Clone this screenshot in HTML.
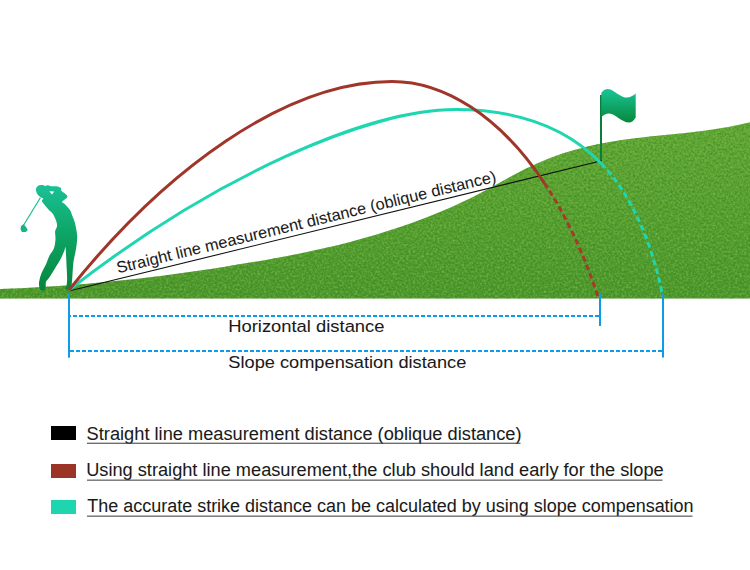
<!DOCTYPE html>
<html><head><meta charset="utf-8"><style>
html,body{margin:0;padding:0;background:#fff;}
body{width:750px;height:570px;overflow:hidden;position:relative;}
svg{position:absolute;left:0;top:0;}
</style></head><body>
<svg width="750" height="570" viewBox="0 0 750 570">
<defs>
<linearGradient id="gg" x1="0" y1="122" x2="0" y2="298" gradientUnits="userSpaceOnUse">
<stop offset="0" stop-color="#62a836"/><stop offset="1" stop-color="#4c972c"/>
</linearGradient>
<filter id="noise" x="0" y="0" width="100%" height="100%" color-interpolation-filters="sRGB">
<feTurbulence type="fractalNoise" baseFrequency="0.45" numOctaves="2" seed="7" result="n"/>
<feColorMatrix in="n" type="matrix" values="0 0 0 0 0.50  0 0 0 0 0.74  0 0 0 0 0.28  1.9 0 0 0 -0.92" result="lt"/>
<feColorMatrix in="n" type="matrix" values="0 0 0 0 0.22  0 0 0 0 0.52  0 0 0 0 0.14  -1.9 0 0 0 0.98" result="dk"/>
<feComposite in="lt" in2="SourceGraphic" operator="in" result="lt2"/>
<feComposite in="dk" in2="SourceGraphic" operator="in" result="dk2"/>
<feMerge><feMergeNode in="SourceGraphic"/><feMergeNode in="lt2"/><feMergeNode in="dk2"/></feMerge>
</filter>
<linearGradient id="golf" x1="0" y1="184" x2="0" y2="291" gradientUnits="userSpaceOnUse">
<stop offset="0" stop-color="#1bc196"/><stop offset="0.45" stop-color="#0ea668"/><stop offset="1" stop-color="#06853b"/>
</linearGradient>
<linearGradient id="flag" x1="0" y1="89" x2="0" y2="123" gradientUnits="userSpaceOnUse">
<stop offset="0" stop-color="#18c596"/><stop offset="1" stop-color="#07873a"/>
</linearGradient>
</defs>
<path d="M0.0,288.9 C4.2,288.7 16.7,288.3 25.0,287.9 C33.3,287.5 41.7,287.0 50.0,286.5 C58.3,286.0 66.7,285.4 75.0,284.8 C83.3,284.2 91.7,283.4 100.0,282.6 C108.3,281.8 116.7,281.0 125.0,280.1 C133.3,279.2 141.7,278.2 150.0,277.2 C158.3,276.2 166.7,275.1 175.0,274.0 C183.3,272.9 191.7,271.7 200.0,270.5 C208.3,269.3 216.7,268.0 225.0,266.7 C233.3,265.4 241.7,264.0 250.0,262.6 C258.3,261.2 266.7,259.7 275.0,258.2 C283.3,256.7 291.7,255.1 300.0,253.4 C308.3,251.7 316.7,249.9 325.0,248.0 C333.3,246.1 341.7,244.1 350.0,241.9 C358.3,239.7 366.7,237.5 375.0,235.0 C383.3,232.5 391.7,229.9 400.0,227.1 C408.3,224.3 416.7,221.2 425.0,218.0 C433.3,214.8 441.7,211.4 450.0,207.7 C458.3,204.0 466.7,200.1 475.0,195.9 C483.3,191.7 491.7,187.0 500.0,182.5 C508.3,178.0 516.7,173.1 525.0,169.0 C533.3,164.9 541.7,161.2 550.0,158.0 C558.3,154.8 566.7,152.1 575.0,149.7 C583.3,147.3 591.7,145.4 600.0,143.7 C608.3,142.0 616.7,140.7 625.0,139.5 C633.3,138.3 641.7,137.4 650.0,136.5 C658.3,135.6 666.7,134.9 675.0,134.0 C683.3,133.1 691.7,132.3 700.0,131.2 C708.3,130.1 716.7,129.0 725.0,127.5 C733.3,126.0 745.8,123.1 750.0,122.2 L750,298.5 L0,298.5 Z" fill="url(#gg)" filter="url(#noise)"/>
<!-- golfer -->
<path d="M36.0,190.0 C35.9,188.9 36.2,188.1 36.7,187.3 C37.2,186.5 38.3,185.7 39.3,185.3 C40.3,184.9 41.7,184.9 42.7,185.0 C43.7,185.1 44.4,185.9 45.3,186.0 C46.2,186.1 47.0,185.2 48.0,185.3 C49.0,185.4 50.1,186.1 51.3,186.3 C52.5,186.5 54.0,186.2 55.3,186.3 C56.6,186.4 58.3,186.6 59.3,187.0 C60.3,187.4 61.0,188.1 61.3,188.7 C61.6,189.3 60.7,189.9 61.3,190.7 C61.9,191.5 63.7,192.4 64.7,193.3 C65.7,194.2 67.0,195.2 67.3,196.0 C67.6,196.8 67.2,197.3 66.7,198.0 C66.2,198.7 64.8,199.3 64.0,200.0 C63.2,200.7 61.9,201.3 62.0,202.0 C62.1,202.7 63.4,202.7 64.7,204.0 C66.0,205.3 68.7,208.0 70.0,210.0 C71.3,212.0 71.6,213.9 72.4,215.9 C73.2,217.9 74.0,219.7 74.6,221.8 C75.2,223.9 75.7,226.1 76.1,228.4 C76.5,230.7 77.1,233.3 77.2,235.8 C77.3,238.3 77.0,240.8 76.8,243.2 C76.6,245.6 76.2,247.5 75.8,250.0 C75.4,252.5 74.6,255.7 74.2,258.0 C73.8,260.3 73.5,261.1 73.2,264.0 C72.9,266.9 72.7,272.1 72.4,275.7 C72.1,279.3 72.0,283.1 71.5,285.4 C71.0,287.7 70.6,288.6 69.7,289.3 C68.8,290.0 66.9,289.9 66.2,289.7 C65.5,289.5 65.2,288.7 65.3,288.0 C65.4,287.3 66.3,287.0 66.6,285.4 C66.9,283.8 67.1,281.4 67.1,278.3 C67.1,275.2 66.8,270.2 66.6,266.9 C66.4,263.5 66.4,261.4 66.2,258.2 C66.0,255.0 65.8,248.8 65.5,247.5 C65.2,246.2 65.2,248.5 64.5,250.3 C63.8,252.1 62.6,255.1 61.0,258.2 C59.4,261.3 56.8,265.3 54.8,268.7 C52.8,272.1 50.2,276.1 48.7,278.3 C47.2,280.5 46.5,280.3 46.0,281.8 C45.5,283.3 45.9,285.6 45.6,287.1 C45.3,288.6 45.2,290.2 44.3,290.6 C43.4,291.0 41.2,290.7 40.3,289.7 C39.4,288.7 39.1,286.1 39.0,284.5 C38.9,282.9 39.1,282.0 39.5,280.1 C39.9,278.2 40.5,275.7 41.6,273.1 C42.7,270.5 44.7,267.2 46.0,264.3 C47.3,261.4 48.3,257.8 49.5,255.5 C50.7,253.2 52.1,252.1 53.0,250.3 C53.9,248.6 54.4,247.1 54.8,245.0 C55.2,242.9 55.5,240.3 55.5,238.0 C55.5,235.7 54.9,233.4 55.1,231.4 C55.4,229.4 56.8,227.9 57.0,226.2 C57.2,224.5 56.8,223.0 56.2,221.0 C55.6,219.0 54.3,216.1 53.3,214.4 C52.3,212.7 51.1,212.2 50.0,211.0 C48.9,209.8 48.0,209.1 46.7,207.5 C45.4,205.9 42.6,202.8 42.0,201.3 C41.4,199.8 43.6,199.5 43.3,198.7 C43.0,197.9 41.0,197.5 40.0,196.7 C39.0,195.9 38.0,195.1 37.3,194.0 C36.6,192.9 36.1,191.1 36.0,190.0Z" fill="url(#golf)"/>
<line x1="40.5" y1="197.5" x2="23.4" y2="225.5" stroke="#1bbd8c" stroke-width="1.2"/>
<path d="M20.9,226.3 L23.4,224.3 C25.2,225.8 26.9,228 27.7,230.2 L25.7,232 L21.8,232 L20.6,229.3 Z" fill="#17b384"/>
<path d="M49.3,191.3 L54.2,191.6 L52,194.5 Z" fill="#fff"/>
<!-- flag -->
<rect x="600" y="95" width="2" height="66.5" fill="#0a7d3a"/>
<path d="M601.3,92.9 C603,90.5 605.5,89 607.6,89 C612,89 615,92.5 618.7,94.5 C621.5,96.5 624,97.6 626.6,97.6 C630,97.6 633.5,95.5 635.7,93.5 L635.7,117.4 C634,120.5 631.5,122.5 629,122.5 C625,122.5 622,120 618.7,118.2 C615.5,116 612.5,113.4 609.2,113.4 C606,113.4 603.5,115 601.3,117 Z" fill="url(#flag)"/>
<!-- black line -->
<line x1="69" y1="291" x2="601.5" y2="160.8" stroke="#111" stroke-width="1.1"/>
<!-- arcs -->
<path d="M69.00,290.00 C215.40,175.60 368.80,109.60 455.40,109.60 C512.81,109.60 563.23,123.67 601.33,163.62" fill="none" stroke="#1fd6b0" stroke-width="3"/>
<path d="M601.33,163.62 C629.14,192.77 650.39,235.70 663.00,297.00" fill="none" stroke="#1fd6b0" stroke-width="3" stroke-dasharray="5.8 3.4"/>
<path d="M69.00,290.00 C164.30,170.60 284.70,81.50 392.00,81.50 C444.03,81.50 499.71,115.95 544.43,183.07" fill="none" stroke="#a0362a" stroke-width="3"/>
<path d="M544.43,183.07 C565.11,214.12 583.45,252.15 598.00,297.00" fill="none" stroke="#a53a2a" stroke-width="3" stroke-dasharray="5.8 3.4"/>
<!-- rotated text -->
<text transform="translate(118,273.3) rotate(-13.62)" font-family="Liberation Sans, sans-serif" font-size="16" fill="#1a1a1a" stroke="#1a1a1a" stroke-width="0.06" textLength="390" lengthAdjust="spacingAndGlyphs">Straight line measurement distance (oblique distance)</text>
<!-- measurement lines -->
<g fill="#0e9ce9">
<rect x="68" y="293" width="2" height="64.7"/>
<rect x="599" y="293" width="2" height="33"/>
<rect x="662" y="293" width="2" height="64.5"/>
</g>
<line x1="70" y1="316" x2="599" y2="316" stroke="#0e9ce9" stroke-width="2" stroke-dasharray="4 2" stroke-dashoffset="3"/>
<line x1="70" y1="351" x2="662" y2="351" stroke="#0e9ce9" stroke-width="2" stroke-dasharray="4 2"/>
<text x="228.2" y="331.8" font-family="Liberation Sans, sans-serif" font-size="17" fill="#1a1a1a" stroke="#1a1a1a" stroke-width="0.06" textLength="156.3" lengthAdjust="spacingAndGlyphs">Horizontal distance</text>
<text x="228.3" y="367.5" font-family="Liberation Sans, sans-serif" font-size="17" fill="#1a1a1a" stroke="#1a1a1a" stroke-width="0.06" textLength="238" lengthAdjust="spacingAndGlyphs">Slope compensation distance</text>
<!-- legend -->
<rect x="51" y="426" width="25" height="14" fill="#000"/>
<rect x="51" y="464" width="25" height="14" fill="#9a3426"/>
<rect x="51" y="500" width="25" height="14" fill="#1dd6b0"/>
<text x="86.6" y="439.8" font-family="Liberation Sans, sans-serif" font-size="17.5" fill="#1a1a1a" stroke="#1a1a1a" stroke-width="0.06" textLength="435" lengthAdjust="spacingAndGlyphs">Straight line measurement distance (oblique distance)</text>
<text x="86.2" y="476.2" font-family="Liberation Sans, sans-serif" font-size="17.5" fill="#1a1a1a" stroke="#1a1a1a" stroke-width="0.06" textLength="577.5" lengthAdjust="spacingAndGlyphs">Using straight line measurement,the club should land early for the slope</text>
<text x="87.3" y="512.2" font-family="Liberation Sans, sans-serif" font-size="17.5" fill="#1a1a1a" stroke="#1a1a1a" stroke-width="0.06" textLength="606.3" lengthAdjust="spacingAndGlyphs">The accurate strike distance can be calculated by using slope compensation</text>
<rect x="87" y="442.7" width="433.5" height="1.1" fill="#4a4a4a"/>
<rect x="87" y="479.6" width="575.5" height="1.1" fill="#4a4a4a"/>
<rect x="87" y="515.6" width="605.5" height="1.1" fill="#4a4a4a"/>
</svg>
</body></html>
